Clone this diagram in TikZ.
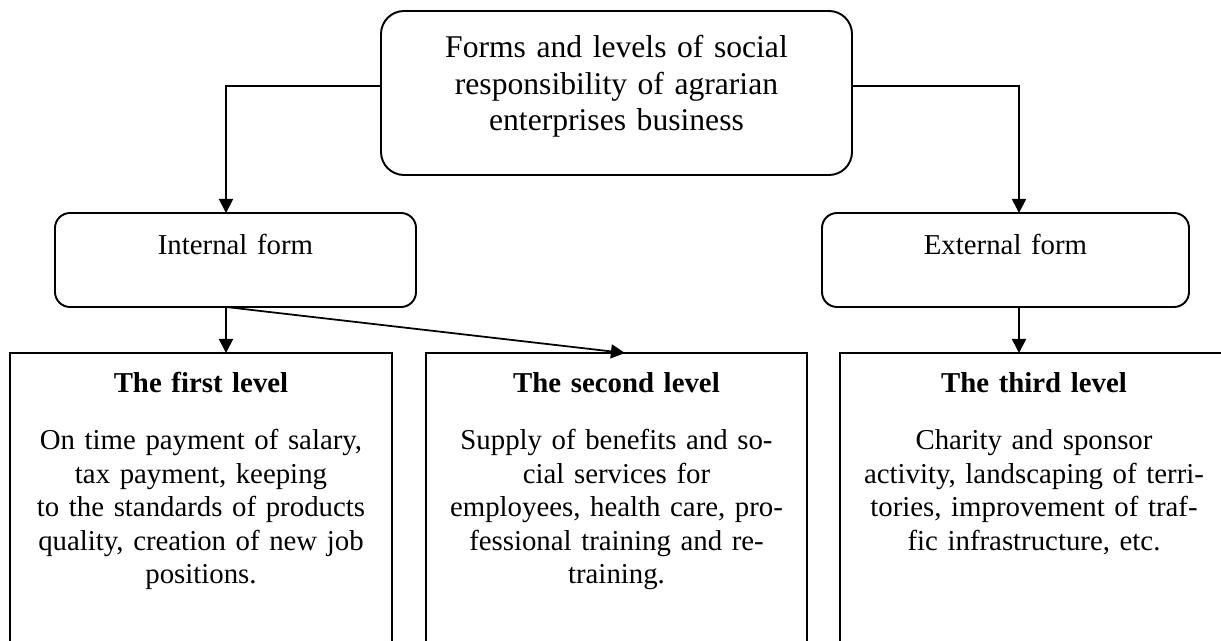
\documentclass[tikz,border=0pt]{standalone}
\usepackage{fontspec}
\setmainfont{Liberation Serif}
\usetikzlibrary{positioning}
\usetikzlibrary{arrows.meta}
\tikzset{>={Triangle[length=8pt,width=8pt]}}
\tikzset{topbox/.style={draw,rounded corners=0.46cm,line width=1.1pt,outer sep=0pt,anchor=north,text width=9.02cm,align=center,inner xsep=0.2cm,inner ysep=0pt,text height=0.94cm,text depth=2.34cm,font=\fontsize{18}{20.7}\selectfont}}
\tikzset{form/.style={draw,rounded corners=0.3cm,line width=1.1pt,outer sep=0pt,anchor=north,text width=7.02cm,align=center,inner xsep=0.1cm,inner ysep=0pt,text height=0.84cm,text depth=1.04cm,font=\fontsize{16.4}{19}\selectfont}}
\tikzset{level/.style={draw,line width=1.1pt,outer sep=0pt,anchor=north,text width=7.24cm,align=center,inner xsep=0.2cm,inner ysep=0pt,text height=0.78cm,text depth=6cm,font=\fontsize{16.4}{19}\selectfont}}
\tikzset{conn/.style={->,line width=1pt}}

\begin{document}
\begin{tikzpicture}
\useasboundingbox (0,0) rectangle (24.42,-12.82);
\clip (0,0) rectangle (24.42,-12.82);

\node[topbox] (forms) at (12.33,-0.22) {Forms and levels of social\\ responsibility of agrarian\\ enterprises business};

\node[form] (internal) at (4.71,-4.26) {Internal form};
\node[form, text width=7.14cm, right=8.12cm of internal] (external) {External form};

\node[level] (first) at (4.02,-7.06) {\textbf{The first level}\\[0.49cm]
 On time payment of salary,\\ tax payment, keeping\\ to the standards of products\\ quality, creation of new job\\ positions.};
\node[level, text width=7.22cm, right=0.68cm of first] (second) {\textbf{The second level}\\[0.49cm]
 Supply of benefits and so-\\ cial services for\\ employees, health care, pro-\\ fessional training and re-\\ training.};
\node[level, text width=7.36cm, right=0.66cm of second] (third) {\textbf{The third level}\\[0.49cm]
 Charity and sponsor\\ activity, landscaping of terri-\\ tories, improvement of traf-\\ fic infrastructure, etc.};

\draw[conn] ([yshift=0.14cm]forms.west) -| ([xshift=-0.19cm]internal.north);
\draw[conn] ([yshift=0.14cm]forms.east) -| ([xshift=0.27cm]external.north);

\draw[conn] ([xshift=-0.19cm]internal.south) -- ([xshift=0.5cm]first.north);
\draw[conn] ([xshift=-0.19cm]internal.south) -- ([xshift=0.17cm]second.north);
\draw[conn] ([xshift=0.27cm]external.south) -- ([xshift=-0.3cm]third.north);
\end{tikzpicture}
\end{document}
